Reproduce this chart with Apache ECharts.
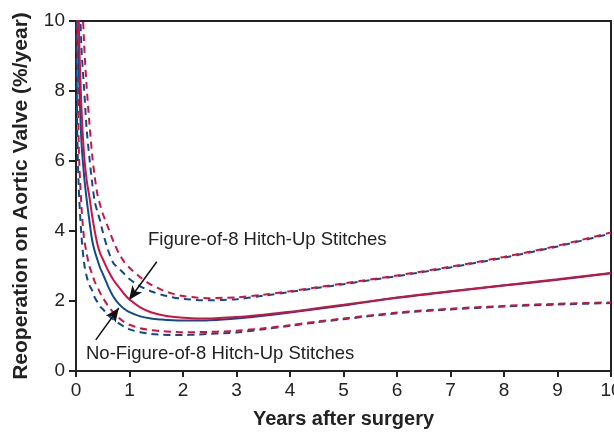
<!DOCTYPE html>
<html><head><meta charset="utf-8">
<script src="https://cdn.jsdelivr.net/npm/echarts@6/dist/echarts.min.js"></script>
<style>html,body{margin:0;padding:0;background:#fff}#c{width:614px;height:442px}</style>
</head><body><div id="c"></div>
<script>
var years = [0.01,0.02,0.05,0.1,0.15,0.2,0.25,0.3,0.35,0.4,0.45,0.5,0.6,0.7,0.8,0.9,1,1.2,1.4,1.6,1.8,2,2.25,2.5,2.75,3,3.5,4,4.5,5,6,7,8,9,10];
var fig8 = [30,20,10.2,7.6,6.2,5.45,4.98,4.45,4.0,3.62,3.37,3.2,2.87,2.6,2.4,2.2,2.04,1.82,1.68,1.6,1.55,1.52,1.5,1.5,1.52,1.54,1.61,1.69,1.79,1.89,2.1,2.28,2.45,2.62,2.8];
var fig8Upper = [35,25,16,11.5,9.4,8.1,7.1,6.2,5.55,5.05,4.75,4.5,4.1,3.7,3.37,3.12,2.95,2.68,2.47,2.32,2.21,2.14,2.1,2.08,2.09,2.1,2.18,2.28,2.39,2.5,2.73,2.98,3.26,3.58,3.96];
var fig8Lower = [16,11,6.5,4.75,3.8,3.35,3.0,2.78,2.55,2.4,2.24,2.1,1.86,1.67,1.52,1.4,1.32,1.22,1.17,1.14,1.12,1.11,1.11,1.12,1.13,1.15,1.22,1.31,1.41,1.5,1.67,1.78,1.86,1.92,1.96];
var noFig8 = [22,15,9.0,6.6,5.6,4.89,4.3,3.75,3.42,3.18,2.95,2.78,2.42,2.12,1.92,1.78,1.68,1.56,1.5,1.47,1.45,1.44,1.44,1.45,1.47,1.5,1.58,1.67,1.77,1.87,2.09,2.27,2.44,2.61,2.79];
var noFig8Upper = [25,18,12,9.3,8.1,6.9,6.1,5.4,4.85,4.55,4.3,3.98,3.45,3.08,2.93,2.78,2.63,2.42,2.28,2.18,2.11,2.06,2.03,2.02,2.03,2.05,2.15,2.26,2.37,2.48,2.71,2.96,3.24,3.56,3.93];
var noFig8Lower = [11,7.2,5.3,3.9,3.1,2.7,2.45,2.31,2.1,1.97,1.84,1.77,1.6,1.47,1.36,1.27,1.19,1.11,1.06,1.04,1.03,1.03,1.04,1.06,1.08,1.1,1.19,1.29,1.39,1.48,1.65,1.76,1.84,1.9,1.94];
var xTicks = [0,1,2,3,4,5,6,7,8,9,10];
var yTicks = [0,2,4,6,8,10];
var labelFig8 = 'Figure-of-8 Hitch-Up Stitches';
var labelNoFig8 = 'No-Figure-of-8 Hitch-Up Stitches';
var arrowFig8 = [[1.51,3.12],[0.99,2.03]];
var arrowNoFig8 = [[0.37,0.89],[0.8,1.8]];

var RED = '#cf1242', BLUE = '#0d4c8b', FONT = '"Liberation Sans", Arial, sans-serif';
function pts(arr){ return years.map(function(x,i){ return [x, arr[i]]; }); }
function ser(name, arr, color, dashed, z){
  return { name:name, type:'line', data:pts(arr), symbol:'none', smooth:0.3, clip:true, z:z,
    lineStyle:{ color:color, width:2, type: dashed ? [7,5] : 'solid' } };
}
var series = [
  ser('noFig8Upper', noFig8Upper, BLUE, true, 2),
  ser('noFig8Lower', noFig8Lower, BLUE, true, 2),
  ser('fig8Upper', fig8Upper, RED, true, 3),
  ser('fig8Lower', fig8Lower, RED, true, 3),
  ser('noFig8', noFig8, BLUE, false, 4),
  ser('fig8', fig8, RED, false, 5)
];
series[5].markLine = {
  silent:true, symbol:['none','arrow'], symbolSize:[9,14], label:{show:false},
  lineStyle:{color:'#111', width:1.5, type:'solid'},
  data:[
    [{coord:arrowFig8[0]},{coord:arrowFig8[1]}],
    [{coord:arrowNoFig8[0]},{coord:arrowNoFig8[1]}]
  ]
};
var chart = echarts.init(document.getElementById('c'), null, {renderer:'canvas'});
chart.setOption({
  animation:false,
  grid:{left:76, right:3, top:21, bottom:71, outerBoundsMode:'none', containLabel:false, show:true, borderColor:'#222', borderWidth:2, backgroundColor:'transparent'},
  xAxis:{type:'value', min:0, max:10, interval:1,
    name:'Years after surgery', nameLocation:'middle', nameGap:38,
    nameTextStyle:{fontFamily:FONT, fontSize:20, fontWeight:'bold', color:'#222'},
    axisLine:{show:true, lineStyle:{color:'#222', width:2}},
    axisTick:{show:true, inside:false, length:6, lineStyle:{color:'#222', width:2}},
    axisLabel:{fontFamily:FONT, fontSize:19, color:'#222', margin:10,
      formatter:function(v){ return xTicks.indexOf(v)>=0 ? String(v) : ''; }},
    splitLine:{show:false}},
  yAxis:{type:'value', min:0, max:10, interval:2,
    name:'Reoperation on Aortic Valve (%/year)', nameLocation:'middle', nameGap:44,
    nameTextStyle:{fontFamily:FONT, fontSize:21, fontWeight:'bold', color:'#222'},
    axisLine:{show:true, lineStyle:{color:'#222', width:2}},
    axisTick:{show:true, inside:false, length:7, lineStyle:{color:'#222', width:2}},
    axisLabel:{fontFamily:FONT, fontSize:19, color:'#222', margin:11,
      formatter:function(v){ return yTicks.indexOf(v)>=0 ? String(v) : ''; }},
    splitLine:{show:false}},
  graphic:[
    {type:'text', left:148, top:230, style:{text:labelFig8, fontFamily:FONT, fontSize:18.5, fill:'#222'}},
    {type:'text', left:86, top:344, style:{text:labelNoFig8, fontFamily:FONT, fontSize:18.5, fill:'#222'}}
  ],
  series:series
});
</script></body></html>
